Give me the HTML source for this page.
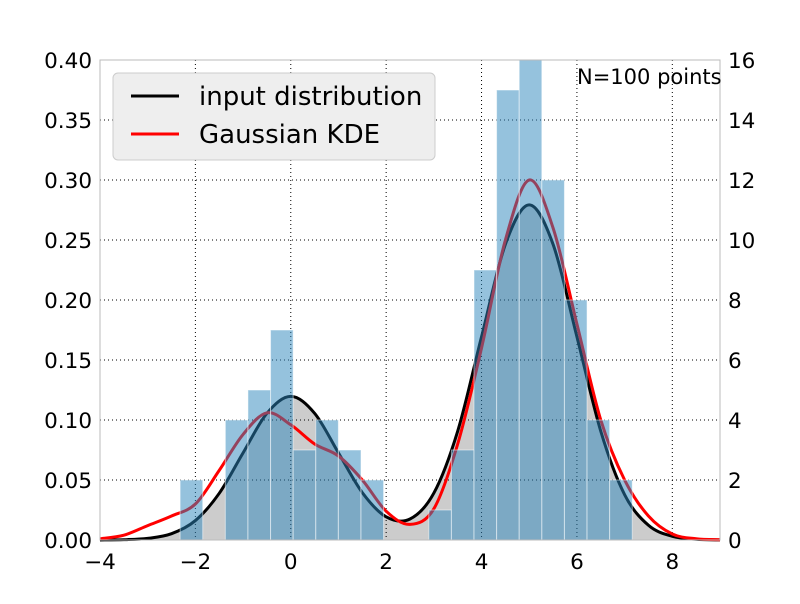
<!DOCTYPE html>
<html><head><meta charset="utf-8"><style>
body{margin:0;background:#fff;font-family:"DejaVu Sans","Liberation Sans",sans-serif}
</style></head><body>
<svg id="chart" width="800" height="600" xmlns="http://www.w3.org/2000/svg" style="font-family:'DejaVu Sans','Liberation Sans',sans-serif">
<g id="plot"></g>
</svg>
<script>
const binStart = -2.32;
const binWidth = 0.474;
const counts = [2,0,4,5,7,3,4,3,2,0,0,1,3,9,15,16,12,8,4,2];
const gridX = [-4,-3.5,-3,-2.5,-2,-1.5,-1,-0.5,0,0.5,1,1.5,2,2.5,3,3.5,4,4.5,5,5.5,6,6.5,7,7.5,8,8.5,9];
const trueDens = [0.00004,0.00026,0.00133,0.00525,0.0162,0.0389,0.0726,0.1056,0.1197,0.1056,0.0726,0.0395,0.0193,0.0175,0.0391,0.0907,0.1694,0.2464,0.2793,0.2464,0.1694,0.0907,0.0378,0.01225,0.0031,0.0006,0.0001];
const kdeDens = [0.001,0.004,0.012,0.02,0.03,0.058,0.088,0.106,0.096,0.08,0.07,0.05,0.024,0.013,0.026,0.08,0.16,0.25,0.30,0.26,0.18,0.10,0.05,0.02,0.005,0.001,0.0002];
const xTicks = [-4,-2,0,2,4,6,8];
const yTicks = [0,0.05,0.10,0.15,0.20,0.25,0.30,0.35,0.40];
const yLabels = ["0.00","0.05","0.10","0.15","0.20","0.25","0.30","0.35","0.40"];
const cTicks = [0,2,4,6,8,10,12,14,16];

const L=100,R=720,T=60,B=540;
const xs=v=>L+(v+4)/13*(R-L);
const ys=v=>B-v/0.4*(B-T);
const yc=v=>B-v/16*(B-T);
const NS="http://www.w3.org/2000/svg";
const g=document.getElementById('plot');
function mk(tag,attrs,parent){const e=document.createElementNS(NS,tag);for(const k in attrs)e.setAttribute(k,attrs[k]);(parent||g).appendChild(e);return e;}
function smooth(xa,ya){const p=xa.map((x,i)=>[xs(x),ys(ya[i])]);let d='M'+p[0][0]+','+p[0][1];
for(let i=0;i<p.length-1;i++){const p0=p[Math.max(0,i-1)],p1=p[i],p2=p[i+1],p3=p[Math.min(p.length-1,i+2)];
d+=` C${p1[0]+(p2[0]-p0[0])/6},${p1[1]+(p2[1]-p0[1])/6} ${p2[0]-(p3[0]-p1[0])/6},${p2[1]-(p3[1]-p1[1])/6} ${p2[0]},${p2[1]}`;}return d;}

const fd=smooth(gridX,trueDens)+` L${xs(9)},${ys(0)} L${xs(-4)},${ys(0)} Z`;
const fill=mk('path',{d:fd,fill:'#000','fill-opacity':0.2,stroke:'none'});


xTicks.forEach(t=>{if(t>-4){const l=mk('line',{x1:xs(t),x2:xs(t),y1:T,y2:B,stroke:'#000','stroke-width':1,'stroke-dasharray':'1,3'});

}});
yTicks.forEach(t=>{if(t>0&&t<0.4){const l=mk('line',{x1:L,x2:R,y1:ys(t),y2:ys(t),stroke:'#000','stroke-width':1,'stroke-dasharray':'1,3'});

}});
const bl=mk('path',{d:smooth(gridX,trueDens),fill:'none',stroke:'#000','stroke-width':3});


const rl=mk('path',{d:smooth(gridX,kdeDens),fill:'none',stroke:'#f00','stroke-width':3});


counts.forEach((c,i)=>{if(c>0){const x0=binStart+i*binWidth;const r=mk('rect',{x:xs(x0),y:yc(c),width:xs(x0+binWidth)-xs(x0),height:yc(0)-yc(c),fill:'#2b85bb','fill-opacity':0.5,stroke:'#fff','stroke-opacity':0.5,'stroke-width':1});

}});
const fr=mk('rect',{x:L,y:T,width:R-L,height:B-T,fill:'none',stroke:'#bbb','stroke-width':1});


xTicks.forEach(t=>{const e=mk('text',{x:xs(t),y:B+29,'text-anchor':'middle','font-size':21.5});e.textContent=(t<0?'\u2212'+(-t):t);

});
yTicks.forEach((t,i)=>{const e=mk('text',{x:L-8,y:ys(t)+8,'text-anchor':'end','font-size':21.5});e.textContent=yLabels[i];

});
cTicks.forEach(t=>{const e=mk('text',{x:R+8,y:yc(t)+8,'text-anchor':'start','font-size':21.5});e.textContent=t;

});
const an=mk('text',{x:577,y:84,'font-size':21});an.textContent='N=100 points';


const lg=mk('g',{});


mk('rect',{x:113,y:73,width:322,height:87,rx:5,fill:'#eee',stroke:'#ccc','stroke-width':1},lg);
mk('line',{x1:131,x2:179,y1:96,y2:96,stroke:'#000','stroke-width':3},lg);
mk('line',{x1:131,x2:179,y1:134,y2:134,stroke:'#f00','stroke-width':3},lg);
const t1=mk('text',{x:199,y:105,'font-size':26},lg);t1.textContent='input distribution';


const t2=mk('text',{x:199,y:143,'font-size':26},lg);t2.textContent='Gaussian KDE';


</script>
</body></html>
